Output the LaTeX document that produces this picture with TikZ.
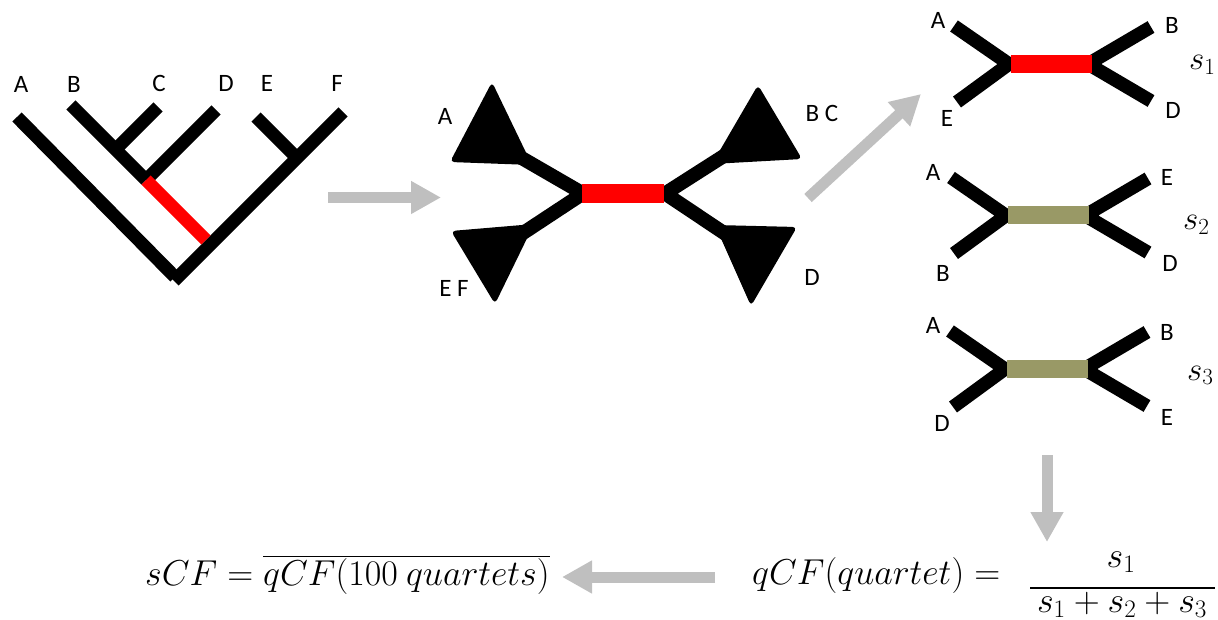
\RequirePackage{fix-cm}
\documentclass[tikz,border=0pt]{standalone}
\usepackage[no-math]{fontspec}
\setmainfont{Carlito}
\usetikzlibrary{arrows.meta,calc}
\definecolor{arrgray}{RGB}{191,191,191}
\definecolor{qolive}{RGB}{153,153,102}
\begin{document}
\begin{tikzpicture}[x=1pt,y=-1pt,
  br/.style={line width=13pt,line cap=butt},
  mbr/.style={line width=14pt,line cap=butt,line join=miter},
  qbr/.style={line width=13.5pt,line cap=butt,line join=miter},
  tri/.style={fill=black,rounded corners=4.5pt},
  lab/.style={font=\fontsize{25}{30}\selectfont,inner sep=0pt},
  mth/.style={font=\fontsize{36}{42}\selectfont,inner sep=0pt},
  smth/.style={font=\fontsize{33}{40}\selectfont,inner sep=0pt},
  garrow/.style={arrgray,line width=11pt,line cap=butt,-{Triangle[length=30pt,width=31pt]}}]
\useasboundingbox (0,0) rectangle (1218,620);

% ---------- rooted tree ----------
\coordinate (Atop) at (17,117);  \coordinate (Abot) at (175,277);
\coordinate (Ftop) at (343,112); \coordinate (Fbot) at (174,281);
\coordinate (Btop) at (71,105);  \coordinate (BD) at (146,180);
\coordinate (Dtop) at (216,110);
\coordinate (Ctop) at (158,107); \coordinate (BC) at (115.5,149.5);
\coordinate (Etop) at (256,117); \coordinate (EF) at (297,158);
\coordinate (RF) at (210.5,244.5);
\draw[br] (Atop) -- (Abot);
\draw[br] (Ftop) -- (Fbot);
\draw[br] (Btop) -- (BD);
\draw[br] (Dtop) -- (BD);
\draw[br] (Ctop) -- (BC);
\draw[br] (Etop) -- (EF);
\draw[br,red,shorten >=6.5pt] (BD) -- (RF);
\node[lab] (tA) at (21,84) {A};
\node[lab] (tB) at (74,84) {B};
\node[lab] (tC) at (159,83) {C};
\node[lab] (tD) at (226,83) {D};
\node[lab] (tE) at (267,83) {E};
\node[lab] (tF) at (337,83) {F};

% ---------- arrow 1 ----------
\coordinate (a1s) at (328,197.5); \coordinate (a1e) at (441,197.5);
\draw[garrow] (a1s) -- (a1e);

% ---------- unrooted tree ----------
\coordinate (J1) at (583,193.5); \coordinate (J2) at (665,193.5);
\coordinate (ULa) at (513,153); \coordinate (LLa) at (517,237);
\coordinate (URa) at (730,152); \coordinate (LRa) at (730,237);
\fill[tri] (492,82) -- (450,162) -- (532,165) -- cycle;
\fill[tri] (451,231) -- (534,224) -- (495,304) -- cycle;
\fill[tri] (758,85) -- (712,164) -- (802,159) -- cycle;
\fill[tri] (715,225) -- (797,227) -- (751,306) -- cycle;
\draw[mbr] (ULa) -- (J1) -- (LLa);
\draw[mbr] (URa) -- (J2) -- (LRa);
\fill[red] (582,184) rectangle (664,203);
\node[lab] (uA) at (445,116) {A};
\node[lab] (uEF) at (454,288) {E F};
\node[lab] (uBC) at (822,113) {B C};
\node[lab] (uD) at (812,277) {D};

% ---------- arrow 2 ----------
\coordinate (a2s) at (808,198); \coordinate (a2e) at (921,94);
\draw[garrow] (a2s) -- (a2e);

% ---------- quartet 1 ----------
\draw[qbr] (954,26) -- (1009,64) -- (957,102);
\draw[qbr] (1151,27) -- (1088,64) -- (1151,101);
\fill[red] (1011,55) rectangle (1092,73);
\node[lab] (q1A) at (938,20) {A};
\node[lab] (q1E) at (947,118) {E};
\node[lab] (q1B) at (1172,25) {B};
\node[lab] (q1D) at (1173,110) {D};
\node[smth,anchor=base west] (s1) at (1189,70) {$s_1$};

% ---------- quartet 2 ----------
\draw[qbr] (951,177.5) -- (1006,215.5) -- (954,253.5);
\draw[qbr] (1148,178.5) -- (1085,215.5) -- (1148,252.5);
\fill[qolive] (1008,206.5) rectangle (1089,224.5);
\node[lab] (q2A) at (933,172) {A};
\node[lab] (q2B) at (943,273) {B};
\node[lab] (q2E) at (1167,177) {E};
\node[lab] (q2D) at (1170,263) {D};
\node[smth,anchor=base west] (s2) at (1183,230) {$s_2$};

% ---------- quartet 3 ----------
\draw[qbr] (950,331) -- (1005,369) -- (953,407);
\draw[qbr] (1147,332) -- (1084,369) -- (1147,406);
\fill[qolive] (1007,360) rectangle (1088,378);
\node[lab] (q3A) at (933,325) {A};
\node[lab] (q3D) at (942,423) {D};
\node[lab] (q3B) at (1167,332) {B};
\node[lab] (q3E) at (1167,417) {E};
\node[smth,anchor=base west] (s3) at (1187,380) {$s_3$};

% ---------- arrow 3 ----------
\coordinate (a3s) at (1047,455); \coordinate (a3e) at (1047,542);
\draw[garrow] (a3s) -- (a3e);

% ---------- formulas ----------
\node[mth,anchor=base west] (qcf) at (752,584) {$qCF(quartet) =$};
\node[mth,anchor=base] (num) at (1121,567) {$s_1$};
\node[mth,anchor=base] (den) at (1122,612) {$s_1+s_2+s_3$};
\coordinate (fbl) at (1030,588); \coordinate (fbr) at (1215,588);
\draw[line width=1.4pt] (fbl) -- (fbr);

\coordinate (a4s) at (715,577); \coordinate (a4e) at (562,577);
\draw[garrow] (a4s) -- (a4e);
\node[mth,anchor=base west] (scf) at (145,585) {$sCF = \overline{qCF(100\ quartets)}$};
\end{tikzpicture}
\end{document}
